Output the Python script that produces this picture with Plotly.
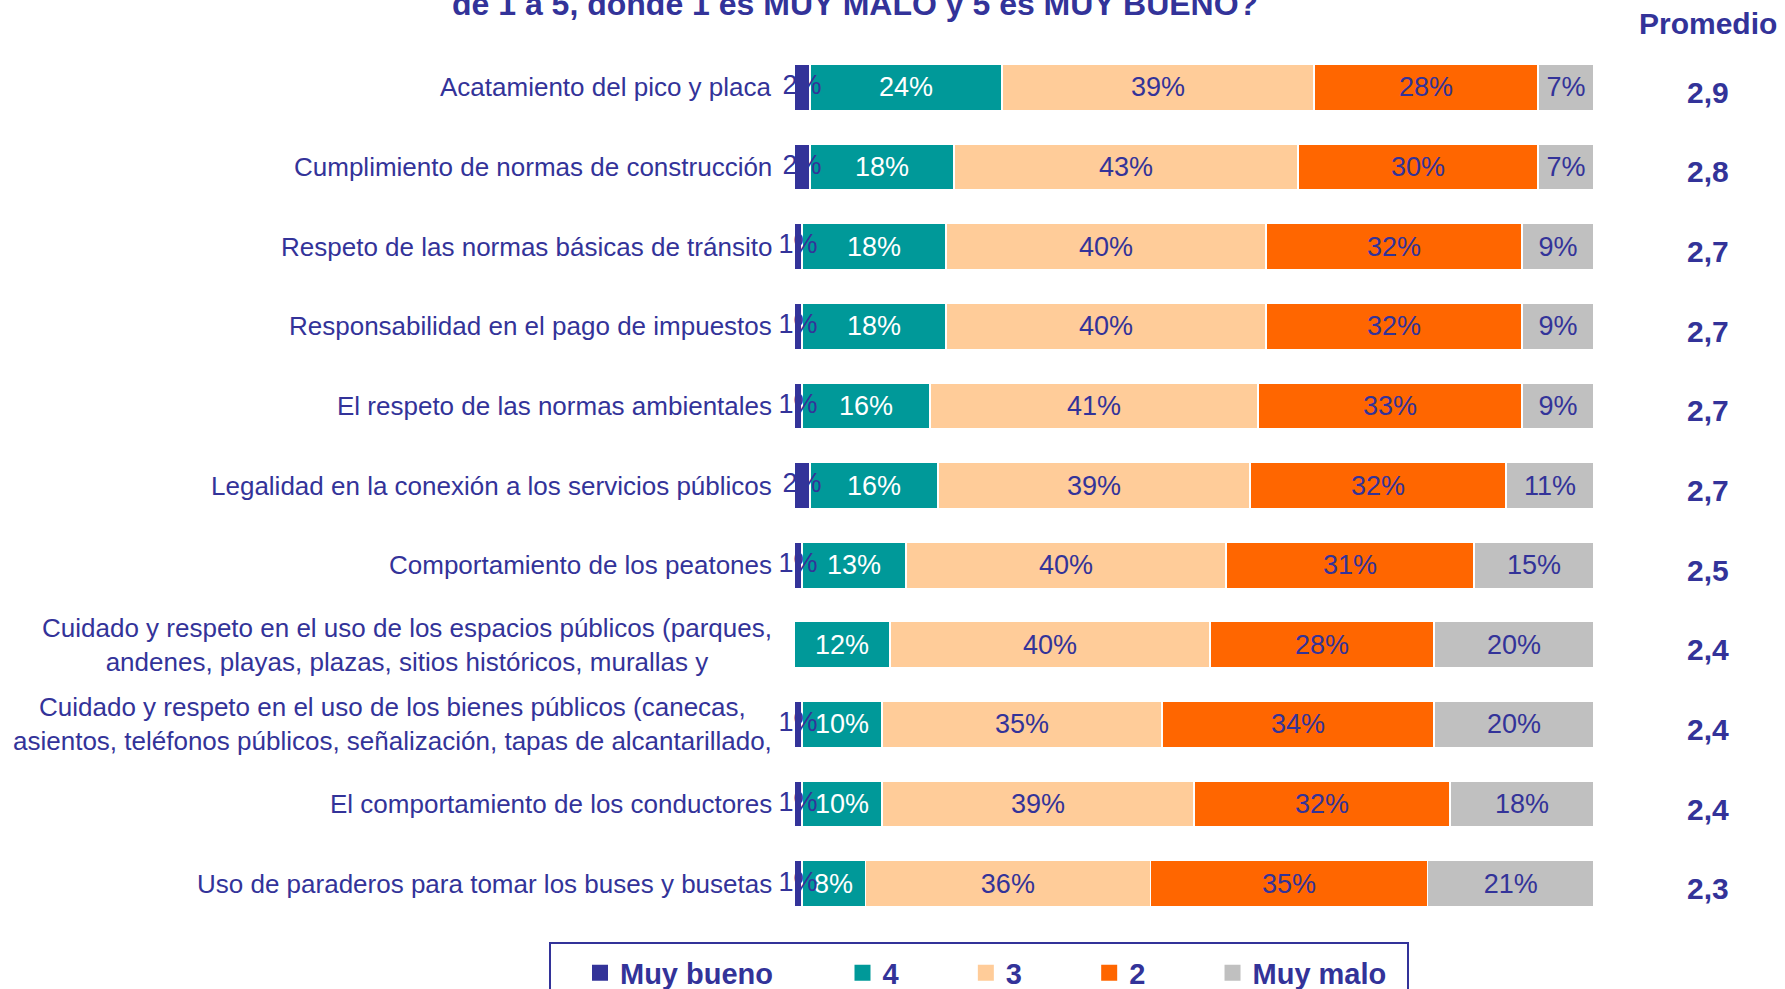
import plotly.graph_objects as go

categories = [
    "Acatamiento del pico y placa",
    "Cumplimiento de normas de construcción",
    "Respeto de las normas básicas de tránsito",
    "Responsabilidad en el pago de impuestos",
    "El respeto de las normas ambientales",
    "Legalidad en la conexión a los servicios públicos",
    "Comportamiento de los peatones",
    "Cuidado y respeto en el uso de los espacios públicos (parques,<br>andenes, playas, plazas, sitios históricos, murallas y",
    "Cuidado y respeto en el uso de los bienes públicos (canecas,<br>asientos, teléfonos públicos, señalización, tapas de alcantarillado,",
    "El comportamiento de los conductores",
    "Uso de paraderos para tomar los buses y busetas",
]
muy_bueno = [2, 2, 1, 1, 1, 2, 1, 0, 1, 1, 1]
cuatro = [24, 18, 18, 18, 16, 16, 13, 12, 10, 10, 8]
tres = [39, 43, 40, 40, 41, 39, 40, 40, 35, 39, 36]
dos = [28, 30, 32, 32, 33, 32, 31, 28, 34, 32, 35]
muy_malo = [7, 7, 9, 9, 9, 11, 15, 20, 20, 18, 21]
promedio = ["2,9", "2,8", "2,7", "2,7", "2,7", "2,7", "2,5", "2,4", "2,4", "2,4", "2,3"]
series_names = ["Muy bueno", "4", "3", "2", "Muy malo"]
title_text = "de 1 a 5, donde 1 es MUY MALO y 5 es MUY BUENO?"

BLUE = "#333399"
colors = ["#333399", "#009999", "#FFCC99", "#FF6600", "#C0C0C0"]
label_colors = [BLUE, "white", BLUE, BLUE, BLUE]
FONT = "Arial, Liberation Sans, sans-serif"
NB = "\u00a0"
legend_pads = [NB * 8, NB * 7 + "\u2009", NB * 7 + "\u2009", NB * 7 + "\u2009", ""]

fig = go.Figure()
all_series = [muy_bueno, cuatro, tres, dos, muy_malo]
for i, (name, vals) in enumerate(zip(series_names, all_series)):
    fig.add_trace(go.Bar(
        y=categories, x=vals, orientation="h", name=name, showlegend=False,
        marker=dict(color=colors[i], line=dict(color="white", width=1.5)),
        text=[f"{v}%" if v > 0 else "" for v in vals] if i > 0 else None,
        textposition="inside" if i > 0 else "none",
        insidetextanchor="middle",
        textfont=dict(family=FONT, size=27, color=label_colors[i]),
        hoverinfo="skip",
    ))

# labels of the thin "Muy bueno" segments
fig.add_trace(go.Scatter(
    y=categories, x=[v / 2 for v in muy_bueno], mode="text",
    text=[f"{v}%" if v > 0 else "" for v in muy_bueno],
    textposition="middle center", cliponaxis=False,
    textfont=dict(family=FONT, size=27, color=BLUE),
    showlegend=False, hoverinfo="skip",
))

# legend entries (square symbols)
for i, name in enumerate(series_names):
    fig.add_trace(go.Scatter(
        x=[None], y=[None], mode="markers", name=name + legend_pads[i],
        marker=dict(symbol="square", size=16, color=colors[i]),
        showlegend=True, hoverinfo="skip",
    ))

annotations = []
for cat, avg in zip(categories, promedio):
    annotations.append(dict(
        xref="paper", yref="y", x=0, y=cat, xanchor="right", yanchor="middle",
        xshift=-20, text=cat, align="center", showarrow=False,
        font=dict(family=FONT, size=26, color=BLUE),
    ))
    annotations.append(dict(
        xref="paper", yref="y", x=1.1425, y=cat, xanchor="center", yanchor="middle",
        yshift=-5, text=f"<b>{avg}</b>", showarrow=False,
        font=dict(family=FONT, size=30, color=BLUE),
    ))
annotations.append(dict(
    xref="paper", yref="paper", x=1.1425, y=1.0225, xanchor="center", yanchor="middle",
    text="<b>Promedio</b>", showarrow=False,
    font=dict(family=FONT, size=30, color=BLUE),
))
annotations.append(dict(
    xref="paper", yref="paper", x=0.0762, y=1.0215, xanchor="center", yanchor="bottom",
    text=f"<b>{title_text}</b>", showarrow=False,
    font=dict(family=FONT, size=32, color=BLUE),
))

fig.update_layout(
    barmode="stack", barnorm="percent", bargap=0.42,
    width=1785, height=989,
    margin=dict(l=794, r=191, t=43, b=61, autoexpand=False),
    paper_bgcolor="white", plot_bgcolor="white",
    font=dict(family=FONT, color=BLUE),
    xaxis=dict(range=[0, 100], visible=False, fixedrange=True),
    yaxis=dict(autorange="reversed", showticklabels=False, showgrid=False,
               zeroline=False, showline=False, ticks=""),
    showlegend=True,
    legend=dict(orientation="h", x=-0.2675, xanchor="left", y=-0.022, yanchor="top",
                font=dict(family=FONT, size=29, color=BLUE, weight="bold"),
                bgcolor="rgba(0,0,0,0)", borderwidth=0, traceorder="normal"),
    annotations=annotations,
    shapes=[dict(type="rect", xref="paper", yref="paper",
                 x0=-0.305, x1=0.7675, y0=-0.09, y1=-0.017,
                 line=dict(color=BLUE, width=2), fillcolor="rgba(0,0,0,0)")],
)

fig.write_html("out.html", config={"displayModeBar": False},
               post_script="document.body.style.margin='0px';")
